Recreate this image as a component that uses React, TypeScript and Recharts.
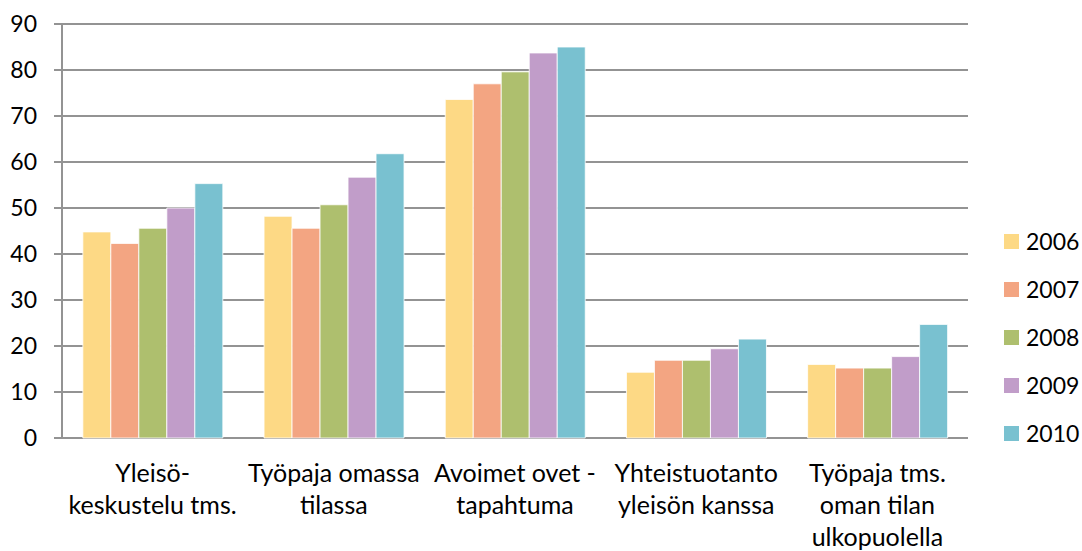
import { BarChart, Bar, XAxis, YAxis, CartesianGrid } from 'recharts';

const categories = [
  'Yleisö-\nkeskustelu tms.',
  'Työpaja omassa\ntilassa',
  'Avoimet ovet -\ntapahtuma',
  'Yhteistuotanto\nyleisön kanssa',
  'Työpaja tms.\noman tilan\nulkopuolella',
];

const years = ['2006', '2007', '2008', '2009', '2010'];
const colors = ['#FDD985', '#F3A582', '#AEBF6E', '#C19DC9', '#79C1D0'];

const values2006 = [44.8, 48.2, 73.6, 14.3, 16.0];
const values2007 = [42.3, 45.6, 77.0, 16.9, 15.2];
const values2008 = [45.6, 50.7, 79.6, 16.9, 15.2];
const values2009 = [50.0, 56.7, 83.7, 19.4, 17.7];
const values2010 = [55.3, 61.8, 85.0, 21.5, 24.7];

const yTicks = [0, 10, 20, 30, 40, 50, 60, 70, 80, 90];
const boundaryTicks = [0, 1, 2, 3, 4, 5];

const series = [values2006, values2007, values2008, values2009, values2010];

const data = categories.map((name, i) => {
  const row: Record<string, string | number> = { name };
  years.forEach((y, s) => {
    row[y] = series[s][i];
  });
  return row;
});

const FONT = 'Lato, "Noto Sans", sans-serif';
const GRID = '#939393';

// category labels are split on \n and stacked
const CategoryTick = (props: { x?: number; y?: number; payload?: { value: string } }) => {
  const { x = 0, y = 0, payload } = props;
  const lines = String(payload?.value ?? '').split('\n');
  return (
    <text x={x} y={y} textAnchor="middle" fill="#000" fontSize={25} fontFamily={FONT}>
      {lines.map((line, i) => (
        <tspan key={i} x={x} dy={i === 0 ? 36 : 32}>
          {line}
        </tspan>
      ))}
    </text>
  );
};

const YearLegend = () => (
  <div style={{ position: 'absolute', left: 1004, top: 217, fontFamily: FONT, fontSize: 23, color: '#000' }}>
    {years.map((y, i) => (
      <div key={y} style={{ display: 'flex', alignItems: 'center', height: 48 }}>
        <span style={{ width: 15, height: 15, background: colors[i], display: 'inline-block', marginRight: 7 }} />
        <span>{y}</span>
      </div>
    ))}
  </div>
);

export default function App() {
  return (
    <div style={{ position: 'absolute', left: 0, top: 0, width: 1082, height: 551, background: '#fff' }}>
      <BarChart
        width={1082}
        height={551}
        data={data}
        margin={{ top: 24, right: 114, left: 0, bottom: 0 }}
        barCategoryGap="11.5%"
        barGap={0}
      >
        <CartesianGrid vertical={false} stroke={GRID} strokeWidth={2} yAxisId="y" xAxisId="cat" />
        <XAxis
          xAxisId="bounds"
          type="number"
          domain={[0, 5]}
          ticks={boundaryTicks}
          tick={false}
          tickSize={8}
          tickLine={{ stroke: GRID, strokeWidth: 2 }}
          axisLine={{ stroke: GRID, strokeWidth: 2 }}
          height={0}
        />
        <XAxis
          xAxisId="cat"
          dataKey="name"
          interval={0}
          tickLine={false}
          axisLine={false}
          tick={<CategoryTick />}
          height={113}
        />
        <YAxis
          yAxisId="y"
          domain={[0, 90]}
          ticks={yTicks}
          interval={0}
          width={62}
          tickSize={8}
          tickMargin={17}
          tickLine={{ stroke: GRID, strokeWidth: 2 }}
          axisLine={{ stroke: GRID, strokeWidth: 2 }}
          tick={{ fill: '#000', fontSize: 23, fontFamily: FONT }}
        />
        {years.map((y, i) => (
          <Bar
            key={y}
            dataKey={y}
            xAxisId="cat"
            yAxisId="y"
            fill={colors[i]}
            stroke="#fff"
            strokeWidth={0.8}
            isAnimationActive={false}
          />
        ))}
      </BarChart>
      <YearLegend />
    </div>
  );
}
